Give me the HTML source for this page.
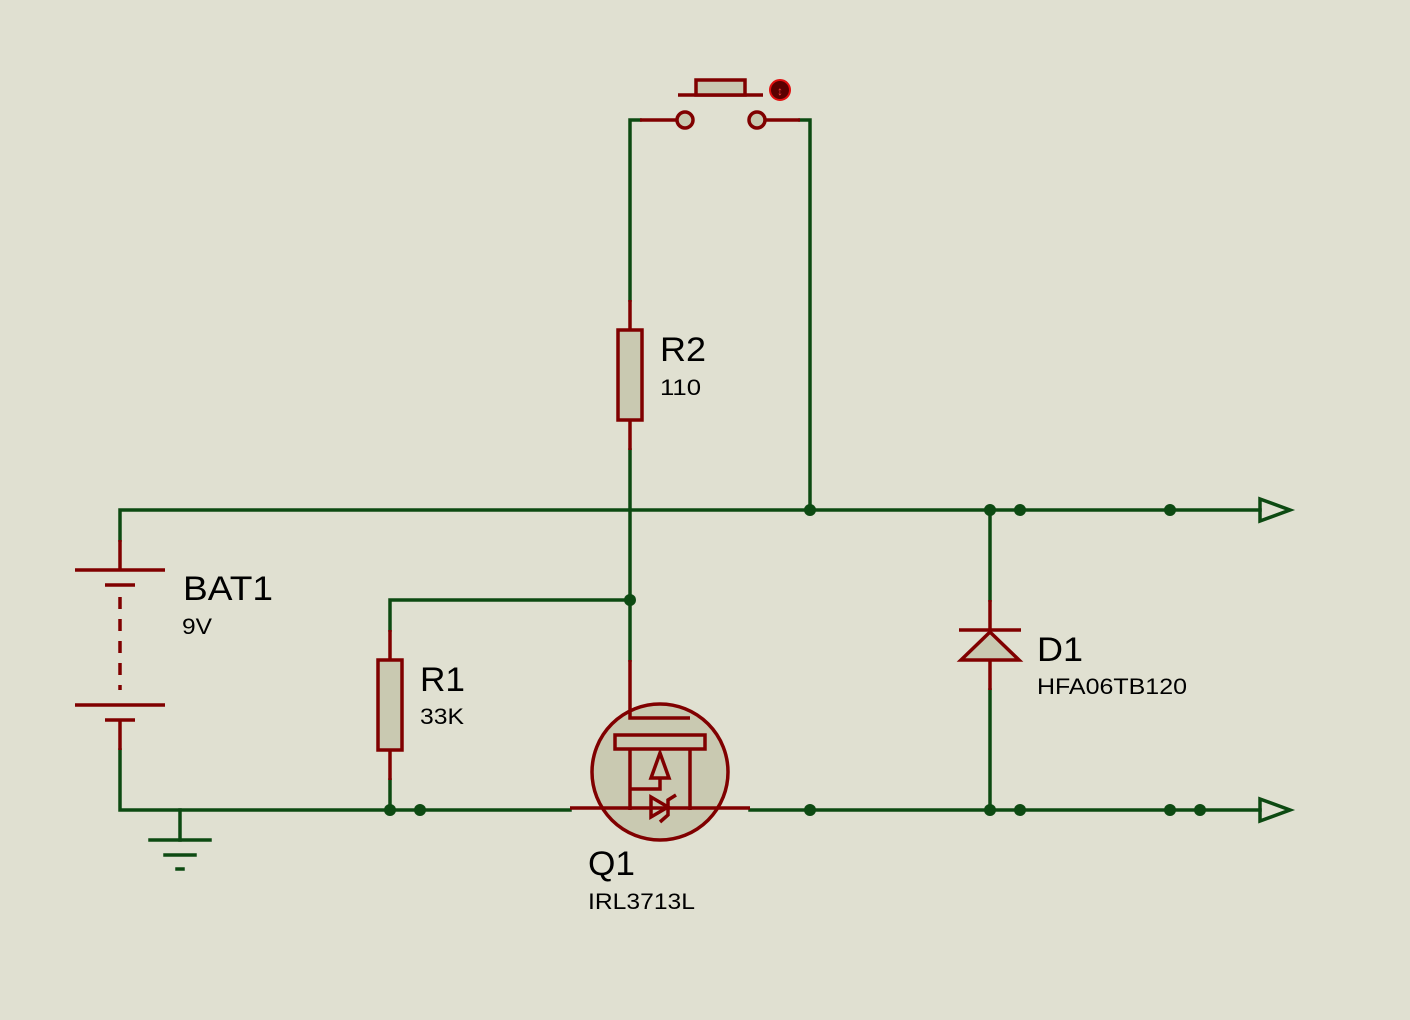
<!DOCTYPE html>
<html><head><meta charset="utf-8"><style>
html,body{margin:0;padding:0;background:#e0e0d1;}
svg{display:block;}
text{font-family:"Liberation Sans",sans-serif;fill:#000;}
</style></head><body>
<svg width="1410" height="1020" viewBox="0 0 1410 1020" xmlns="http://www.w3.org/2000/svg">
<rect width="1410" height="1020" fill="#e0e0d1"/>
<g stroke="#0d4a12" stroke-width="3.5" fill="none" stroke-linecap="square">
<polyline points="120,540 120,510 1260,510"/>
<polyline points="630,300 630,120 640,120"/>
<polyline points="800,120 810,120 810,510"/>
<line x1="630" y1="450" x2="630" y2="660"/>
<polyline points="630,600 390,600 390,630"/>
<polyline points="120,750 120,810 570,810"/>
<line x1="390" y1="780" x2="390" y2="810"/>
<line x1="750" y1="810" x2="1260" y2="810"/>
<line x1="990" y1="510" x2="990" y2="600"/>
<line x1="990" y1="690" x2="990" y2="810"/>
<line x1="180" y1="810" x2="180" y2="840"/>
<line x1="150" y1="840" x2="210" y2="840"/>
<line x1="165" y1="855" x2="195" y2="855"/>
<line x1="177" y1="869" x2="183" y2="869"/>
<polygon points="1260,499 1290,510 1260,521"/>
<polygon points="1260,799 1290,810 1260,821"/>
</g>
<g fill="#0d4a12">
<circle cx="810" cy="510" r="6"/><circle cx="990" cy="510" r="6"/><circle cx="1020" cy="510" r="6"/><circle cx="1170" cy="510" r="6"/>
<circle cx="630" cy="600" r="6"/>
<circle cx="390" cy="810" r="6"/><circle cx="420" cy="810" r="6"/><circle cx="810" cy="810" r="6"/><circle cx="990" cy="810" r="6"/><circle cx="1020" cy="810" r="6"/><circle cx="1170" cy="810" r="6"/><circle cx="1200" cy="810" r="6"/>
</g>
<g stroke="#800000" stroke-width="3.5" fill="none">
<line x1="120" y1="540" x2="120" y2="570"/>
<line x1="75" y1="570" x2="165" y2="570"/>
<line x1="105" y1="585" x2="135" y2="585"/>
<line x1="120" y1="597" x2="120" y2="690" stroke-dasharray="12,10"/>
<line x1="75" y1="705" x2="165" y2="705"/>
<line x1="105" y1="720" x2="135" y2="720"/>
<line x1="120" y1="720" x2="120" y2="750"/>
<line x1="390" y1="630" x2="390" y2="780"/>
<rect x="378" y="660" width="24" height="90" fill="#c9c9b1"/>
<line x1="630" y1="300" x2="630" y2="450"/>
<rect x="618" y="330" width="24" height="90" fill="#c9c9b1"/>
<line x1="640" y1="120" x2="678" y2="120"/>
<line x1="764" y1="120" x2="800" y2="120"/>
<circle cx="685" cy="120" r="8" fill="#c9c9b1"/>
<circle cx="757" cy="120" r="8" fill="#c9c9b1"/>
<line x1="678" y1="95" x2="763" y2="95"/>
<rect x="696" y="80" width="49" height="15" fill="#c9c9b1"/>
<line x1="990" y1="600" x2="990" y2="690"/>
<polygon points="990,632 961,660 1019,660" fill="#c9c9b1"/>
<line x1="959" y1="630" x2="1021" y2="630"/>
<circle cx="660" cy="772" r="68" fill="#c9c9b1"/>
<polyline points="630,660 630,718 690,718"/>
<rect x="615" y="735" width="90" height="14"/>
<line x1="630" y1="749" x2="630" y2="810"/>
<line x1="690" y1="749" x2="690" y2="810"/>
<line x1="570" y1="808" x2="750" y2="808"/>
<polygon points="660,753 651,778 669,778"/>
<polyline points="660,778 660,789 630,789"/>
<polygon points="651,797 651,817 668,807"/>
<polyline points="676,795 668,800 668,815 660,822"/>
</g>
<circle cx="780" cy="90" r="10" fill="#5a0000" stroke="#e01010" stroke-width="2"/>
<text x="780" y="95" font-size="12" text-anchor="middle" style="fill:#ff4040;font-weight:bold">↕</text>
<text x="183" y="600" font-size="34" textLength="90" lengthAdjust="spacingAndGlyphs">BAT1</text>
<text x="182" y="634" font-size="22" textLength="30" lengthAdjust="spacingAndGlyphs">9V</text>
<text x="420" y="691" font-size="34" textLength="45" lengthAdjust="spacingAndGlyphs">R1</text>
<text x="420" y="724" font-size="22" textLength="44" lengthAdjust="spacingAndGlyphs">33K</text>
<text x="660" y="361" font-size="34" textLength="46" lengthAdjust="spacingAndGlyphs">R2</text>
<text x="660" y="395" font-size="22" textLength="41" lengthAdjust="spacingAndGlyphs">110</text>
<text x="1037" y="661" font-size="34" textLength="46" lengthAdjust="spacingAndGlyphs">D1</text>
<text x="1037" y="694" font-size="22" textLength="150" lengthAdjust="spacingAndGlyphs">HFA06TB120</text>
<text x="588" y="875" font-size="34" textLength="47" lengthAdjust="spacingAndGlyphs">Q1</text>
<text x="588" y="909" font-size="22" textLength="107" lengthAdjust="spacingAndGlyphs">IRL3713L</text>
</svg>
</body></html>
